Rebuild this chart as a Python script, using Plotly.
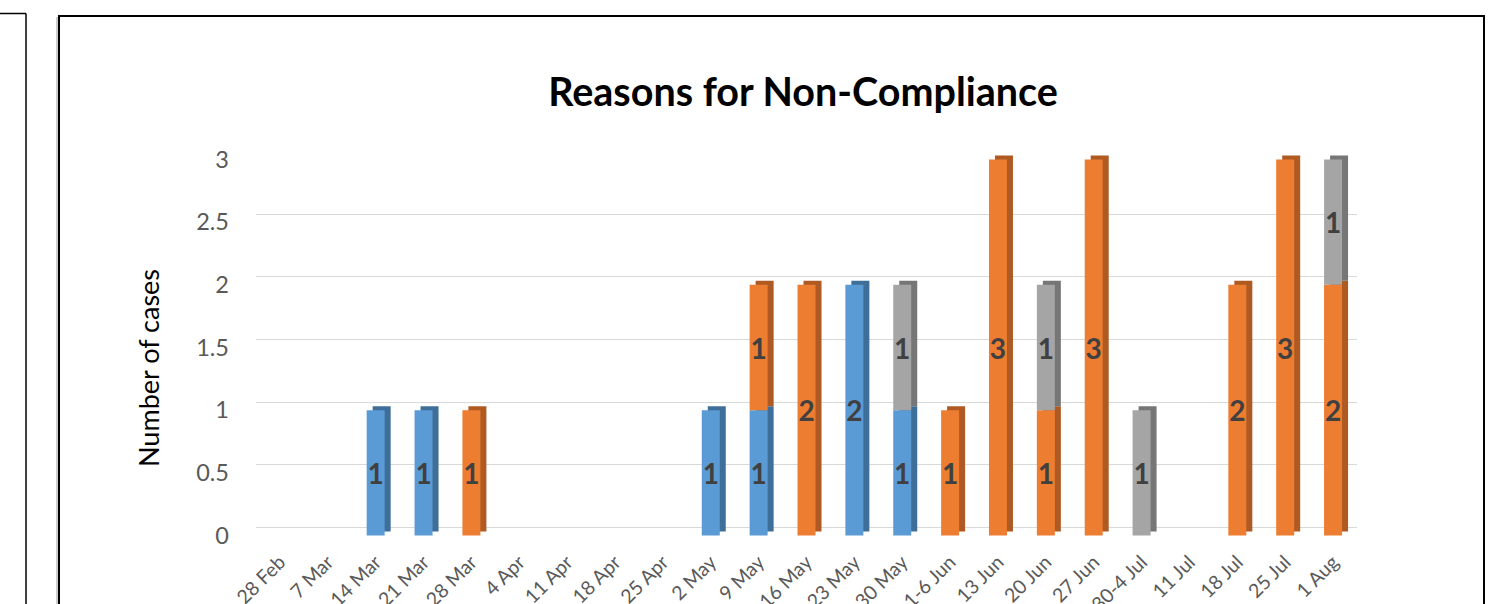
import numpy as np
import plotly.graph_objects as go

# ---------------- data ----------------
weeks = ["28 Feb", "7 Mar", "14 Mar", "21 Mar", "28 Mar", "4 Apr", "11 Apr", "18 Apr",
         "25 Apr", "2 May", "9 May", "16 May", "23 May", "30 May", "1-6 Jun", "13 Jun",
         "20 Jun", "27 Jun", "30-4 Jul", "11 Jul", "18 Jul", "25 Jul", "1 Aug"]
reason_a = [0, 0, 1, 1, 0, 0, 0, 0, 0, 1, 1, 0, 2, 1, 0, 0, 0, 0, 0, 0, 0, 0, 0]
reason_b = [0, 0, 0, 0, 1, 0, 0, 0, 0, 0, 1, 2, 0, 0, 1, 3, 1, 3, 0, 0, 2, 3, 2]
reason_c = [0, 0, 0, 0, 0, 0, 0, 0, 0, 0, 0, 0, 0, 1, 0, 0, 1, 0, 1, 0, 0, 0, 1]
series_names = ["Reason A", "Reason B", "Reason C"]
y_ticks = [0, 0.5, 1, 1.5, 2, 2.5, 3]

# ---------------- style ----------------
front_colors = ["#5B9BD5", "#ED7D31", "#A5A5A5"]
side_colors = ["#3F6E98", "#AE5A22", "#767676"]
W, H = 1500, 604
ML, MR, MT, MB = 256, 143, 152, 66
PW, PH = W - ML - MR, H - MT - MB
Y_RANGE = [-0.02, 3.06]
unit_px = PH / (Y_RANGE[1] - Y_RANGE[0])
cat_px = PW / len(weeks)
BAR_W = 18 / cat_px
SIDE_DX = 6 / cat_px
SIDE_DY = 4 / unit_px
GRID_DY = 8 / unit_px
FONT = "Lato"


def px_x(p):
    return (p - ML) / PW


def px_y(p):
    return (H - MB - p) / PH


series = [np.array(reason_a, float), np.array(reason_b, float), np.array(reason_c, float)]
bases = []
acc = np.zeros(len(weeks))
for s in series:
    bases.append(acc.copy())
    acc = acc + s

fig = go.Figure()

# depth (side/top faces) on the back-wall axis y (shifted by GRID_DY), drawn below
for s, b, col in zip(series, bases, side_colors):
    vals = [v if v > 0 else None for v in s]
    fig.add_trace(go.Bar(
        x=weeks, y=vals, base=list(b + SIDE_DY - GRID_DY), width=BAR_W,
        offset=-BAR_W / 2 + SIDE_DX, marker=dict(color=col, line=dict(width=0)),
        yaxis="y", hoverinfo="skip", showlegend=False))

# front faces with data labels on the front-plane axis y2 (drawn on top)
for s, b, col, name in zip(series, bases, front_colors, series_names):
    vals = [v if v > 0 else None for v in s]
    fig.add_trace(go.Bar(
        x=weeks, y=vals, base=list(b), width=BAR_W, offset=-BAR_W / 2,
        name=name, marker=dict(color=col, line=dict(width=0)),
        text=[f"{int(v)}" if v else "" for v in s],
        textposition="inside", insidetextanchor="middle", textangle=0,
        constraintext="none", yaxis="y2",
        textfont=dict(family=FONT, size=28, color="#404040", weight="bold"),
        showlegend=False))

fig.update_layout(
    width=W, height=H,
    margin=dict(l=ML, r=MR, t=MT, b=MB, autoexpand=False),
    paper_bgcolor="white", plot_bgcolor="rgba(0,0,0,0)",
    barmode="overlay",
    showlegend=False,
    title=dict(text="<b>Reasons for Non-Compliance</b>", xref="container", yref="container",
               x=803 / W, y=1 - 92 / H, xanchor="center", yanchor="middle",
               font=dict(family=FONT, size=39.5, color="#000000")),
    xaxis=dict(type="category", tickangle=-45, showgrid=False, showline=False,
               zeroline=False, ticks="", ticklabelstandoff=8, automargin=False,
               tickfont=dict(family=FONT, size=19.5, color="#595959")),
    yaxis=dict(range=[Y_RANGE[0] - GRID_DY, Y_RANGE[1] - GRID_DY],
               tickvals=y_ticks, showticklabels=False, showgrid=True, automargin=False,
               gridcolor="#D9D9D9", gridwidth=1, zeroline=False, showline=False, ticks=""),
    yaxis2=dict(overlaying="y", side="left", range=Y_RANGE, tickvals=y_ticks,
                showgrid=False, zeroline=False, showline=False, ticks="",
                ticklabelstandoff=26, automargin=False,
                tickfont=dict(family=FONT, size=23.5, color="#595959")),
    annotations=[dict(text="Number of cases", xref="paper", yref="paper",
                      x=px_x(148), y=px_y(368), textangle=-90, showarrow=False,
                      xanchor="center", yanchor="middle",
                      font=dict(family=FONT, size=27, color="#000000"))],
    shapes=[
        dict(type="rect", xref="paper", yref="paper", x0=px_x(59), x1=px_x(1484),
             y0=px_y(650), y1=px_y(16), line=dict(color="#000000", width=2)),
        dict(type="line", xref="paper", yref="paper", x0=px_x(57), x1=px_x(57),
             y0=px_y(650), y1=px_y(17), line=dict(color="#9A9A9A", width=1)),
        dict(type="line", xref="paper", yref="paper", x0=px_x(26), x1=px_x(26),
             y0=px_y(650), y1=px_y(13.5), line=dict(color="#000000", width=1.5)),
        dict(type="line", xref="paper", yref="paper", x0=px_x(-5), x1=px_x(26),
             y0=px_y(13.5), y1=px_y(13.5), line=dict(color="#000000", width=1.5)),
    ],
)

fig.write_html("out.html")
